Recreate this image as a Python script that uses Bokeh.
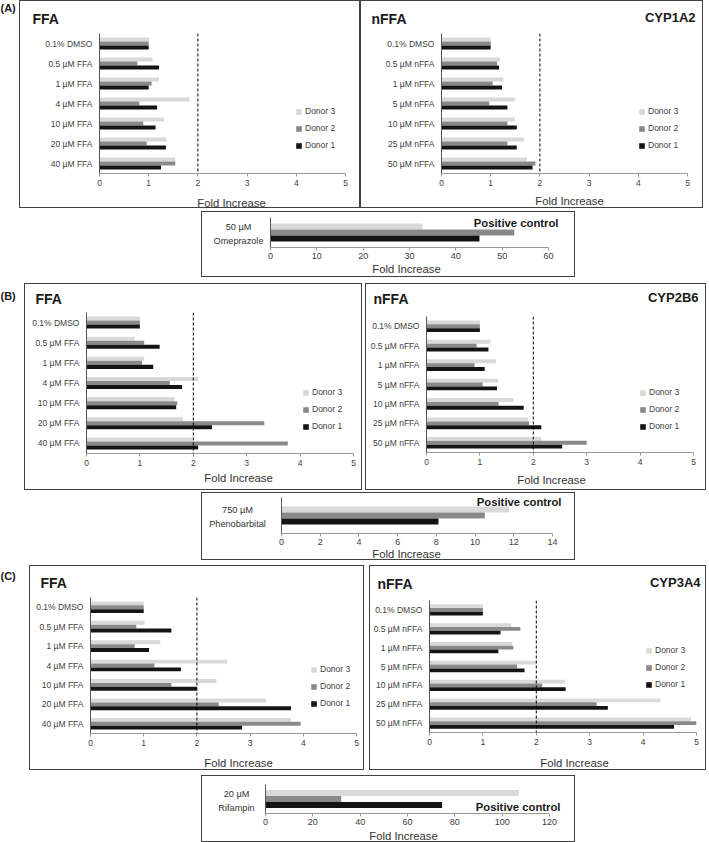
from bokeh.plotting import figure
from bokeh.models import (FactorRange, Range1d, Span, Label, Legend, LegendItem,
                          ColumnDataSource, Spacer, FixedTicker)
from bokeh.layouts import column, row
from bokeh.transform import dodge
from bokeh.embed import file_html
from bokeh.resources import INLINE
from bokeh.core.validation import silence
from bokeh.core.validation.warnings import MISSING_RENDERERS

silence(MISSING_RENDERERS, True)

# ---------------- data ----------------
donor_labels = ["Donor 3", "Donor 2", "Donor 1"]
threshold = 2

ffa_cats = ["0.1% DMSO", "0.5 µM FFA", "1 µM FFA", "4 µM FFA", "10 µM FFA", "20 µM FFA", "40 µM FFA"]
nffa_cats = ["0.1% DMSO", "0.5 µM nFFA", "1 µM nFFA", "5 µM nFFA", "10 µM nFFA", "25 µM nFFA", "50 µM nFFA"]

# (A) CYP1A2
a_ffa_d1 = [1.00, 1.21, 1.00, 1.17, 1.14, 1.35, 1.25]
a_ffa_d2 = [1.00, 0.77, 1.06, 0.81, 0.89, 0.96, 1.54]
a_ffa_d3 = [1.01, 1.08, 1.21, 1.83, 1.31, 1.36, 1.54]
a_nffa_d1 = [1.00, 1.17, 1.23, 1.34, 1.53, 1.53, 1.85]
a_nffa_d2 = [1.00, 1.13, 1.04, 0.97, 1.34, 1.34, 1.91]
a_nffa_d3 = [1.00, 1.19, 1.26, 1.49, 1.49, 1.68, 1.74]
a_pos_cat = "50 µM\nOmeprazole"
a_pos = [45.1, 52.6, 32.8]  # donor1, donor2, donor3

# (B) CYP2B6
b_ffa_d1 = [1.00, 1.37, 1.25, 1.79, 1.68, 2.35, 2.09]
b_ffa_d2 = [1.00, 1.08, 1.04, 1.56, 1.70, 3.33, 3.77]
b_ffa_d3 = [1.00, 0.90, 1.08, 2.09, 1.65, 1.81, 1.98]
b_nffa_d1 = [1.00, 1.16, 1.09, 1.32, 1.82, 2.15, 2.54]
b_nffa_d2 = [1.00, 0.94, 0.90, 1.05, 1.35, 1.92, 3.00]
b_nffa_d3 = [1.00, 1.20, 1.30, 1.34, 1.63, 1.90, 2.15]
b_pos_cat = "750 µM\nPhenobarbital"
b_pos = [8.11, 10.5, 11.76]

# (C) CYP3A4
c_ffa_d1 = [1.00, 1.52, 1.10, 1.70, 2.00, 3.77, 2.85]
c_ffa_d2 = [1.00, 0.86, 0.83, 1.20, 1.52, 2.41, 3.95]
c_ffa_d3 = [1.00, 1.02, 1.31, 2.57, 2.37, 3.30, 3.77]
c_nffa_d1 = [1.00, 1.33, 1.29, 1.78, 2.55, 3.34, 4.58]
c_nffa_d2 = [1.00, 1.70, 1.57, 1.64, 2.11, 3.13, 5.02]
c_nffa_d3 = [1.00, 1.53, 1.55, 2.00, 2.54, 4.33, 4.90]
c_pos_cat = "20 µM\nRifampin"
c_pos = [74.6, 32.0, 107.0]

main_ticks = [0, 1, 2, 3, 4, 5]

# ---------------- style ----------------
FONT = "Liberation Sans"
C3, C2, C1 = "#d9d9d9", "#898989", "#141414"
BOX = {"outline": "1px solid #404040", "outline-offset": "-1px"}
TXT = "#404040"


def strip(w, h):
    s = figure(width=w, height=h, x_range=Range1d(0, 1), y_range=Range1d(0, 1),
               x_axis_type=None, y_axis_type=None, output_backend="svg",
               toolbar_location=None, title=None, min_border=0, frame_align=False)
    s.border_fill_color = None
    s.background_fill_color = None
    s.outline_line_color = None
    return s


def add_label(p, text, x, y, size, bold=True, align="left", color="#1a1a1a", line_height=1.2):
    p.add_layout(Label(x=x, y=y, x_units="canvas", y_units="canvas", text=text,
                       text_font=FONT, text_font_size=size,
                       text_font_style="bold" if bold else "normal",
                       text_color=color, text_align=align, text_baseline="middle",
                       text_line_height=line_height))


def base_fig(w, h, xr, yr, fl, ft, fr, fb):
    p = figure(width=w, height=h, x_range=xr, y_range=yr, output_backend="svg",
               toolbar_location=None, title=None, frame_align=False,
               min_border_left=fl, min_border_top=ft, min_border_right=fr, min_border_bottom=fb)
    p.border_fill_color = None
    p.background_fill_color = None
    p.outline_line_color = None
    p.xgrid.visible = False
    p.ygrid.visible = False
    return p


def style_axes(p, tick_size, x_standoff):
    xa, ya = p.xaxis[0], p.yaxis[0]
    xa.axis_line_color = "#999999"
    xa.major_tick_line_color = "#999999"
    xa.major_tick_out = 3
    xa.major_tick_in = 0
    xa.minor_tick_line_color = None
    xa.major_label_standoff = x_standoff
    xa.major_label_text_font = FONT
    xa.major_label_text_font_size = tick_size
    xa.major_label_text_color = TXT
    ya.axis_line_color = "#555555"
    ya.major_tick_line_color = None
    ya.major_tick_out = 0
    ya.major_tick_in = 0
    ya.minor_tick_line_color = None
    ya.major_label_text_font = FONT
    ya.major_label_text_font_size = tick_size
    ya.major_label_text_color = TXT


def main_box(cats, d1, d2, d3, w, h_top, h_plot, h_bot, fl, ft, fr, fb,
             title, title_x, title_y, leg_x, leg_y, fi_x, fi_y,
             cyp=None, cyp_x=None, cyp_y=None):
    top = strip(w, h_top)
    add_label(top, title, title_x, title_y, "14px")
    if cyp:
        add_label(top, cyp, cyp_x, cyp_y, "13px", align="right")

    p = base_fig(w, h_plot, Range1d(0, 5), FactorRange(*cats[::-1]), fl, ft, fr, fb)
    src = ColumnDataSource(dict(cat=cats, d1=d1, d2=d2, d3=d3))
    r3 = p.hbar(y=dodge("cat", 0.2, range=p.y_range), left=0, right="d3", height=0.2,
                fill_color=C3, line_color=None, source=src)
    r2 = p.hbar(y=dodge("cat", 0.0, range=p.y_range), left=0, right="d2", height=0.2,
                fill_color=C2, line_color=None, source=src)
    r1 = p.hbar(y=dodge("cat", -0.2, range=p.y_range), left=0, right="d1", height=0.2,
                fill_color=C1, line_color=None, source=src)
    p.add_layout(Span(location=threshold, dimension="height", line_color="#000000",
                      line_dash="3 2", line_width=1))
    style_axes(p, "8.5px", 3)
    p.xaxis.ticker = main_ticks
    p.yaxis.major_label_standoff = 7
    leg = Legend(items=[LegendItem(label=donor_labels[0], renderers=[r3]),
                        LegendItem(label=donor_labels[1], renderers=[r2]),
                        LegendItem(label=donor_labels[2], renderers=[r1])],
                 location=(leg_x, leg_y), orientation="vertical",
                 glyph_width=7, glyph_height=7, label_height=10, spacing=7,
                 padding=0, margin=0, border_line_color=None, background_fill_alpha=0,
                 label_text_font=FONT, label_text_font_size="8.5px",
                 label_text_color=TXT, label_standoff=3)
    p.add_layout(leg)

    bot = strip(w, h_bot)
    add_label(bot, "Fold Increase", fi_x, fi_y, "11.3px", bold=False, align="center",
              color="#333333")
    box = column(top, p, bot)
    box.styles = BOX
    return box


def pos_box(cat, vals, xmax, xstep, w, h_top, h_bot, lab_w, lab_cx, lab_cy,
            fl, ft, fb, axis_px, bar_h, pc_x, pc_y, fi_x, fi_y):
    lab = strip(lab_w, h_top)
    add_label(lab, cat, lab_cx, lab_cy, "9.2px", bold=False, align="center",
              color="#333333", line_height=1.4)
    plot_w = w - lab_w
    fr = 3
    x_end = xmax * (plot_w - fl - fr) / axis_px
    p = base_fig(plot_w, h_top, Range1d(0, x_end), FactorRange(cat), fl, ft, fr, fb)
    src = ColumnDataSource(dict(cat=[cat], d1=[vals[0]], d2=[vals[1]], d3=[vals[2]]))
    p.hbar(y=dodge("cat", bar_h, range=p.y_range), left=0, right="d3", height=bar_h,
           fill_color=C3, line_color=None, source=src)
    p.hbar(y=dodge("cat", 0.0, range=p.y_range), left=0, right="d2", height=bar_h,
           fill_color=C2, line_color=None, source=src)
    p.hbar(y=dodge("cat", -bar_h, range=p.y_range), left=0, right="d1", height=bar_h,
           fill_color=C1, line_color=None, source=src)
    style_axes(p, "9px", 2)
    p.xaxis.ticker = list(range(0, xmax + 1, xstep))
    p.xaxis.bounds = (0, xmax)
    # the category name is written beside the axis (centred lines), not as a tick label
    p.yaxis.ticker = FixedTicker(ticks=[])
    p.yaxis.major_label_standoff = 0
    add_label(p, "Positive control", pc_x, pc_y, "11.3px", align="right")

    bot = strip(w, h_bot)
    add_label(bot, "Fold Increase", fi_x, fi_y, "11.3px", bold=False, align="center",
              color="#333333")
    box = column(row(lab, p), bot)
    box.styles = BOX
    return box


def tag_fig(text, w, h, y):
    s = strip(w, h)
    add_label(s, text, 0, y, "11px")
    return s


# ---------------- panels ----------------
ffa_a = main_box(ffa_cats, a_ffa_d1, a_ffa_d2, a_ffa_d3, 341, 28, 163, 17, 80, 5, 15, 18,
                 "FFA", 13, 18, 196, 23, 212, 11)
nffa_a = main_box(nffa_cats, a_nffa_d1, a_nffa_d2, a_nffa_d3, 343, 28, 163, 17, 81, 5, 16, 18,
                  "nFFA", 11, 18, 197, 23, 209, 9, "CYP1A2", 335, 17)
pos_a = pos_box(a_pos_cat, a_pos, 60, 10, 374, 52, 14, 65, 37, 22.5,
                4, 6, 16, 278, 0.2, 292, 11, 205, 5)

ffa_b = main_box(ffa_cats, b_ffa_d1, b_ffa_d2, b_ffa_d3, 338, 26, 162, 19, 62, 3, 9, 18,
                 "FFA", 11, 15, 216, 22, 214, 6)
nffa_b = main_box(nffa_cats, b_nffa_d1, b_nffa_d2, b_nffa_d3, 341, 26, 162, 19, 61, 7, 13, 19,
                  "nFFA", 8, 15, 213, 21, 186, 8, "CYP2B6", 333, 14)
pos_b = pos_box(b_pos_cat, b_pos, 14, 2, 374, 56, 12, 77, 36, 24.5,
                3, 5, 15, 271, 0.167, 283, 9.5, 205, 5)

ffa_c = main_box(ffa_cats, c_ffa_d1, c_ffa_d2, c_ffa_d3, 335, 28, 158, 19, 61, 4, 8, 18,
                 "FFA", 11, 17, 220, 25, 209, 11)
nffa_c = main_box(nffa_cats, c_nffa_d1, c_nffa_d2, c_nffa_d3, 337, 28, 158, 19, 60, 7, 10, 19,
                  "nFFA", 8, 18, 216, 43, 205, 11, "CYP3A4", 331, 17)
pos_c = pos_box(c_pos_cat, c_pos, 120, 20, 374, 54, 13, 61, 35, 25,
                3, 9, 16, 284, 0.207, 298, 31, 202, 6)

layout = column(
    row(tag_fig("(A)", 19, 208, 7), ffa_a, nffa_a),
    Spacer(width=10, height=3),
    row(Spacer(width=201, height=66), pos_a),
    Spacer(width=10, height=6),
    row(tag_fig("(B)", 24, 207, 12), ffa_b, Spacer(width=3, height=207), nffa_b),
    Spacer(width=10, height=2),
    row(Spacer(width=201, height=68), pos_b),
    Spacer(width=10, height=5),
    row(tag_fig("(C)", 29, 205, 10), ffa_c, Spacer(width=5, height=205), nffa_c),
    Spacer(width=10, height=5),
    row(Spacer(width=201, height=67), pos_c),
)

open("out.html", "w").write(file_html(layout, INLINE))
